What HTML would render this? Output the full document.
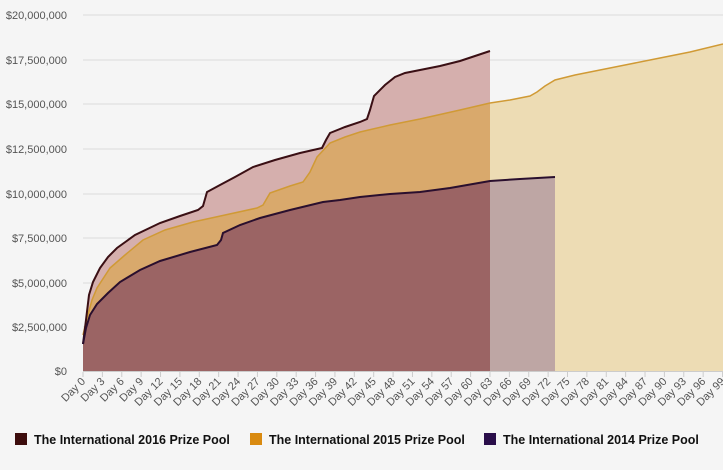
<!DOCTYPE html>
<html><head><style>
body{margin:0;background:#f5f5f5;width:723px;height:470px;overflow:hidden;font-family:"Liberation Sans",sans-serif}
</style></head><body>
<svg width="723" height="470" xmlns="http://www.w3.org/2000/svg" style="position:absolute;left:0;top:0">
<defs>
<clipPath id="a"><rect x="0" y="0" width="490" height="372"/></clipPath>
<clipPath id="b"><rect x="490" y="0" width="300" height="372"/></clipPath>
</defs>
<g stroke="#dcdcdc" stroke-width="1">
<line x1="83" x2="723" y1="15" y2="15"/><line x1="83" x2="723" y1="60" y2="60"/><line x1="83" x2="723" y1="104" y2="104"/><line x1="83" x2="723" y1="149" y2="149"/><line x1="83" x2="723" y1="194" y2="194"/><line x1="83" x2="723" y1="238" y2="238"/><line x1="83" x2="723" y1="283" y2="283"/><line x1="83" x2="723" y1="327" y2="327"/>
</g>
<g font-size="11" fill="#555" text-anchor="end">
<text x="67" y="19">$20,000,000</text><text x="67" y="64">$17,500,000</text><text x="67" y="108">$15,000,000</text><text x="67" y="153">$12,500,000</text><text x="67" y="198">$10,000,000</text><text x="67" y="242">$7,500,000</text><text x="67" y="287">$5,000,000</text><text x="67" y="331">$2,500,000</text><text x="67" y="375">$0</text>
</g>
<path d="M83,335 L87,318 L92,300 L97,288 L110,268 L125,255 L143,240 L165,230 L193,222 L225,215 L257,208 L263,205 L270,193 L290,186 L303,182 L310,172 L317,157 L330,143 L345,137 L360,132 L390,125 L420,119 L460,110 L490,103 L510,100 L530,96 L537,92 L545,86 L555,80 L575,75 L600,70 L630,64 L660,58 L690,52 L723,44 L723,371 L83,371 Z" fill="#eddcb4"/>
<path d="M83,344 L86,320 L89,295 L93,282 L100,268 L108,257 L117,248 L135,235 L160,223 L180,216 L198,210 L203,206 L207,192 L220,185 L235,177 L253,167 L275,160 L300,153 L322,148 L326,140 L330,133 L345,127 L360,122 L367,119 L370,110 L374,96 L385,85 L395,77 L405,73 L420,70 L440,66 L460,61 L475,56 L490,51 L490,371 L83,371 Z" fill="#d5afad"/>
<g clip-path="url(#a)"><path d="M83,335 L87,318 L92,300 L97,288 L110,268 L125,255 L143,240 L165,230 L193,222 L225,215 L257,208 L263,205 L270,193 L290,186 L303,182 L310,172 L317,157 L330,143 L345,137 L360,132 L390,125 L420,119 L460,110 L490,103 L490,371 L83,371 Z" fill="#d9a96c"/></g>
<path d="M83,344 L86,328 L90,315 L97,304 L108,293 L120,282 L140,270 L160,261 L190,252 L217,245 L221,240 L223,233 L240,225 L260,218 L290,210 L323,202 L340,200 L360,197 L390,194 L420,192 L450,188 L490,181 L520,179 L555,177 L555,371 L83,371 Z" fill="#9b6464" clip-path="url(#a)"/>
<path d="M83,344 L86,328 L90,315 L97,304 L108,293 L120,282 L140,270 L160,261 L190,252 L217,245 L221,240 L223,233 L240,225 L260,218 L290,210 L323,202 L340,200 L360,197 L390,194 L420,192 L450,188 L490,181 L520,179 L555,177 L555,371 L83,371 Z" fill="#bea6a4" clip-path="url(#b)"/>
<polyline fill="none" stroke="#d09a35" stroke-width="1.5" points="83,335 87,318 92,300 97,288 110,268 125,255 143,240 165,230 193,222 225,215 257,208 263,205 270,193 290,186 303,182 310,172 317,157 330,143 345,137 360,132 390,125 420,119 460,110 490,103 510,100 530,96 537,92 545,86 555,80 575,75 600,70 630,64 660,58 690,52 723,44"/>
<polyline fill="none" stroke="#3a0f14" stroke-width="2" points="83,344 86,320 89,295 93,282 100,268 108,257 117,248 135,235 160,223 180,216 198,210 203,206 207,192 220,185 235,177 253,167 275,160 300,153 322,148 326,140 330,133 345,127 360,122 367,119 370,110 374,96 385,85 395,77 405,73 420,70 440,66 460,61 475,56 490,51"/>
<polyline fill="none" stroke="#2a0f2e" stroke-width="2" points="83,344 86,328 90,315 97,304 108,293 120,282 140,270 160,261 190,252 217,245 221,240 223,233 240,225 260,218 290,210 323,202 340,200 360,197 390,194 420,192 450,188 490,181 520,179 555,177"/>
<line x1="83" x2="723" y1="371.5" y2="371.5" stroke="#ccc"/>
<g id="ticks" font-size="11" fill="#555"></g>
<g font-size="12.5" font-weight="bold" fill="#111">
<rect x="15" y="433" width="12" height="12" fill="#3d0d0d"/><text x="34" y="444">The International 2016 Prize Pool</text>
<rect x="250" y="433" width="12" height="12" fill="#d98a10"/><text x="269" y="444">The International 2015 Prize Pool</text>
<rect x="484" y="433" width="12" height="12" fill="#2a0e4a"/><text x="503" y="444">The International 2014 Prize Pool</text>
</g>
</svg>
<script>
var g=document.getElementById('ticks'),s='';
for(var d=0;d<=99;d+=3){var x=83+d*6.46;
s+='<line x1="'+x+'" x2="'+x+'" y1="372" y2="377" stroke="#ccc"/>';
s+='<text x="'+(x+3)+'" y="382" text-anchor="end" transform="rotate(-45 '+(x+3)+' 382)">Day '+d+'</text>';}
g.innerHTML=s;
</script>
</body></html>
